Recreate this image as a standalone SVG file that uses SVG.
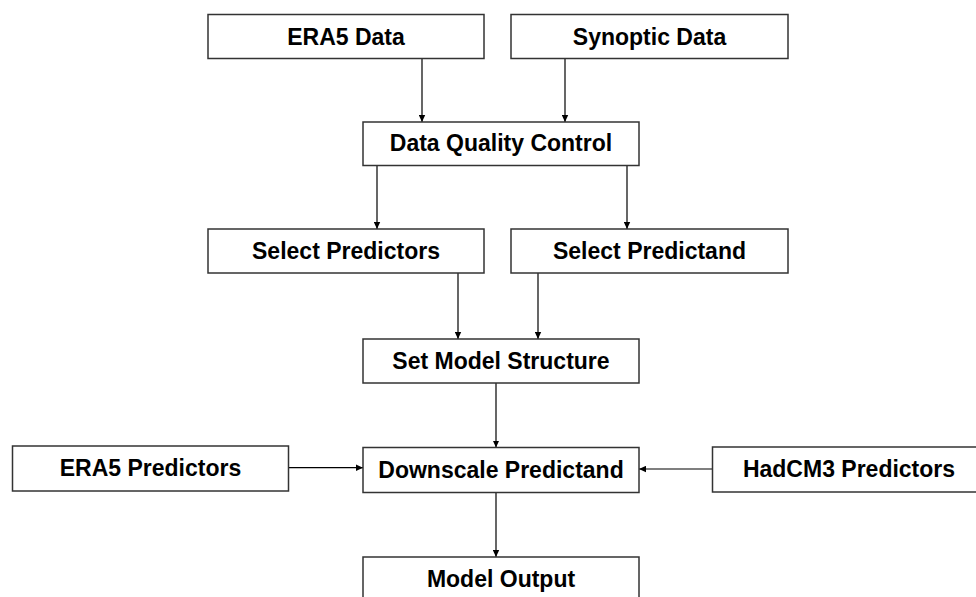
<svg xmlns="http://www.w3.org/2000/svg" width="976" height="597" viewBox="0 0 976 597">
<style>
.box{fill:#fff;stroke:#333;stroke-width:1.5}
.lbl{font-family:"Liberation Sans",Arial,sans-serif;font-weight:bold;font-size:23px;fill:#000;text-anchor:middle}
.con{stroke:#000;stroke-width:1.2;fill:none;marker-end:url(#ah)}
</style>
<defs>
<marker id="ah" markerUnits="userSpaceOnUse" markerWidth="7" markerHeight="7" refX="7" refY="3.5" orient="auto">
<path d="M0,0.3 L7,3.5 L0,6.7 z" fill="#000"/>
</marker>
</defs>
<rect width="976" height="597" fill="#fff"/>
<g id="connectors">
<line class="con" x1="422" y1="59" x2="422" y2="122"/>
<line class="con" x1="565" y1="59" x2="565" y2="122"/>
<line class="con" x1="377" y1="165.5" x2="377" y2="229"/>
<line class="con" x1="627" y1="165.5" x2="627" y2="229"/>
<line class="con" x1="458" y1="273" x2="458" y2="339"/>
<line class="con" x1="538" y1="273" x2="538" y2="339"/>
<line class="con" x1="496" y1="383" x2="496" y2="447.5"/>
<line class="con" x1="288.5" y1="467.7" x2="363" y2="467.7"/>
<line class="con" x1="712.5" y1="469" x2="639" y2="469"/>
<line class="con" x1="496" y1="492.5" x2="496" y2="557"/>
</g>
<g id="era5-data"><rect class="box" x="208" y="14.5" width="276" height="44"/><text class="lbl" x="346" y="44.8">ERA5 Data</text></g>
<g id="synoptic-data"><rect class="box" x="511" y="14.5" width="277" height="44"/><text class="lbl" x="649.5" y="44.8">Synoptic Data</text></g>
<g id="data-quality-control"><rect class="box" x="363" y="122" width="276" height="43.5"/><text class="lbl" x="501" y="151.3">Data Quality Control</text></g>
<g id="select-predictors"><rect class="box" x="208" y="229" width="276" height="44"/><text class="lbl" x="346" y="258.5">Select Predictors</text></g>
<g id="select-predictand"><rect class="box" x="511" y="229" width="277" height="44"/><text class="lbl" x="649.5" y="258.5">Select Predictand</text></g>
<g id="set-model-structure"><rect class="box" x="363" y="339" width="276" height="44"/><text class="lbl" x="501" y="368.5">Set Model Structure</text></g>
<g id="era5-predictors"><rect class="box" x="12.5" y="446" width="276" height="45"/><text class="lbl" x="150.5" y="476">ERA5 Predictors</text></g>
<g id="downscale-predictand"><rect class="box" x="363" y="447.5" width="276" height="45"/><text class="lbl" x="501" y="477.5">Downscale Predictand</text></g>
<g id="hadcm3-predictors"><rect class="box" x="712.5" y="447" width="276" height="45"/><text class="lbl" x="849" y="477">HadCM3 Predictors</text></g>
<g id="model-output"><rect class="box" x="363" y="557" width="276" height="45"/><text class="lbl" x="501" y="587">Model Output</text></g>
</svg>
